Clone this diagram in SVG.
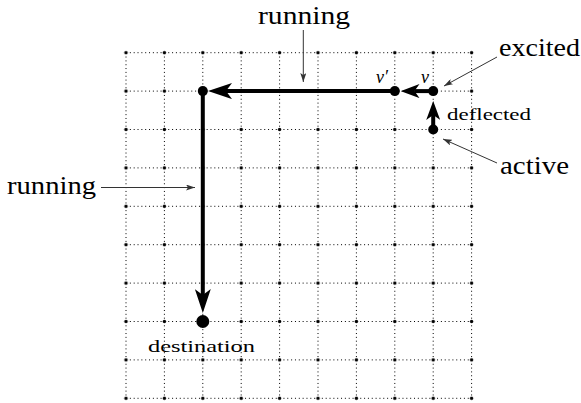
<svg xmlns="http://www.w3.org/2000/svg" width="581" height="403" viewBox="0 0 581 403">
<style>
.grid line{stroke:#000;stroke-width:1;stroke-dasharray:1 2.84;}
.thick{stroke:#000;stroke-width:4;fill:none;}
.thin{stroke:#333;stroke-width:1;fill:none;}
text{font-family:'Liberation Serif','DejaVu Serif',serif;fill:#000;}
.big{font-size:26px;}
.small{font-size:16px;}
.it{font-style:italic;font-size:18px;}
</style>
<defs>
<marker id="arrL" viewBox="0 0 24 16" refX="6" refY="8" markerWidth="24" markerHeight="16" markerUnits="userSpaceOnUse" orient="auto">
<path d="M0,0 L24,8 L0,16 L6,8 Z" fill="#000"/>
</marker>
<marker id="arrS" viewBox="0 0 19 14" refX="5" refY="7" markerWidth="19" markerHeight="14" markerUnits="userSpaceOnUse" orient="auto">
<path d="M0,0 L19,7 L0,14 L5,7 Z" fill="#000"/>
</marker>
<marker id="arrT" viewBox="0 0 9 6" refX="9" refY="3" markerWidth="9" markerHeight="6" markerUnits="userSpaceOnUse" orient="auto">
<path d="M0,0 L9,3 L0,6 L2,3 Z" fill="#333"/>
</marker>
<pattern id="dots" patternUnits="userSpaceOnUse" x="106.8" y="33.5" width="38.4" height="38.4">
<circle cx="19.2" cy="19.2" r="1.7" fill="#000"/>
</pattern>
</defs>
<g id="grid" class="grid">
<line x1="126" y1="52.7" x2="471.6" y2="52.7"/>
<line x1="126" y1="91.1" x2="471.6" y2="91.1"/>
<line x1="126" y1="129.5" x2="471.6" y2="129.5"/>
<line x1="126" y1="167.9" x2="471.6" y2="167.9"/>
<line x1="126" y1="206.3" x2="471.6" y2="206.3"/>
<line x1="126" y1="244.7" x2="471.6" y2="244.7"/>
<line x1="126" y1="283.1" x2="471.6" y2="283.1"/>
<line x1="126" y1="321.5" x2="471.6" y2="321.5"/>
<line x1="126" y1="359.9" x2="471.6" y2="359.9"/>
<line x1="126" y1="398.3" x2="471.6" y2="398.3"/>
<line x1="126" y1="52.7" x2="126" y2="398.3"/>
<line x1="164.4" y1="52.7" x2="164.4" y2="398.3"/>
<line x1="202.8" y1="52.7" x2="202.8" y2="398.3"/>
<line x1="241.2" y1="52.7" x2="241.2" y2="398.3"/>
<line x1="279.6" y1="52.7" x2="279.6" y2="398.3"/>
<line x1="318" y1="52.7" x2="318" y2="398.3"/>
<line x1="356.4" y1="52.7" x2="356.4" y2="398.3"/>
<line x1="394.8" y1="52.7" x2="394.8" y2="398.3"/>
<line x1="433.2" y1="52.7" x2="433.2" y2="398.3"/>
<line x1="471.6" y1="52.7" x2="471.6" y2="398.3"/>
<rect x="106.8" y="33.5" width="384" height="384" fill="url(#dots)" style="stroke:none"/>
</g>
<g id="connectors">
<line class="thick" x1="394.8" y1="91.1" x2="226" y2="91.1" marker-end="url(#arrL)"/>
<line class="thick" x1="202.8" y1="91.1" x2="202.8" y2="295" marker-end="url(#arrL)"/>
<line class="thick" x1="433.2" y1="91.1" x2="414.5" y2="91.1" marker-end="url(#arrS)"/>
<line class="thick" x1="433.2" y1="129.5" x2="433.2" y2="115" marker-end="url(#arrS)"/>
<line class="thin" x1="303.3" y1="30" x2="303.3" y2="82" marker-end="url(#arrT)"/>
<line class="thin" x1="101" y1="187.5" x2="195" y2="187.5" marker-end="url(#arrT)"/>
<line class="thin" x1="497" y1="57" x2="444" y2="86" marker-end="url(#arrT)"/>
<line class="thin" x1="497" y1="163" x2="443" y2="139" marker-end="url(#arrT)"/>
</g>
<g id="corner"><circle cx="202.8" cy="91.1" r="5" fill="#000"/></g>
<g id="v-prime"><circle cx="394.8" cy="91.1" r="5" fill="#000"/><text class="it" x="376" y="83">v′</text></g>
<g id="v"><circle cx="433.2" cy="91.1" r="5" fill="#000"/><text class="it" x="421" y="83">v</text></g>
<g id="active-node"><circle cx="433.2" cy="129.5" r="5" fill="#000"/><text class="small" x="447" y="120" textLength="84" lengthAdjust="spacingAndGlyphs">deflected</text></g>
<g id="destination"><circle cx="202.8" cy="321.5" r="6.5" fill="#000"/><text class="small" x="148" y="352" textLength="107" lengthAdjust="spacingAndGlyphs">destination</text></g>
<g id="label-running-top"><text class="big" x="258" y="24" textLength="92" lengthAdjust="spacingAndGlyphs">running</text></g>
<g id="label-running-left"><text class="big" x="7" y="194" textLength="89" lengthAdjust="spacingAndGlyphs">running</text></g>
<g id="label-excited"><text class="big" x="499" y="56" textLength="81" lengthAdjust="spacingAndGlyphs">excited</text></g>
<g id="label-active"><text class="big" x="500" y="174" textLength="69" lengthAdjust="spacingAndGlyphs">active</text></g>
</svg>
